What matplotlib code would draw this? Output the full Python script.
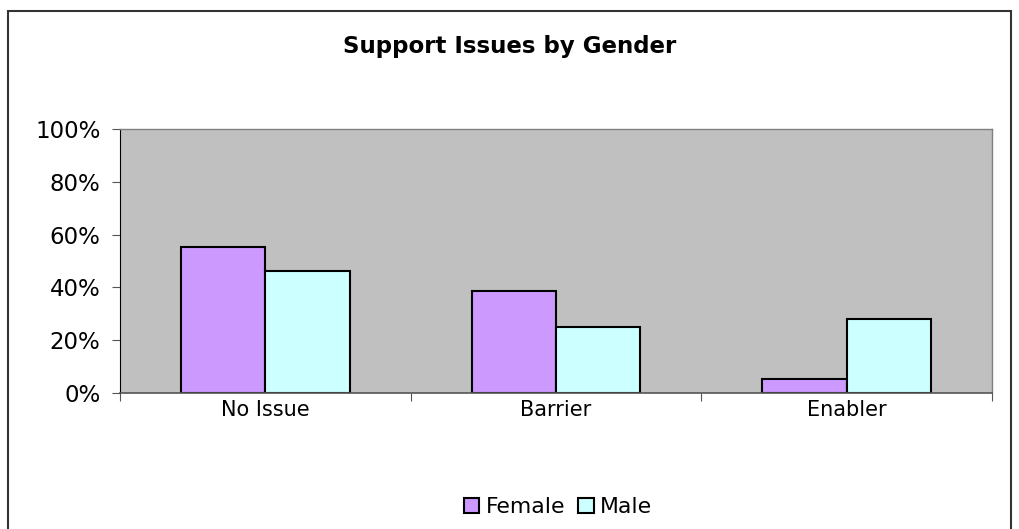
import numpy as np
import matplotlib.pyplot as plt
from matplotlib.patches import Rectangle
from matplotlib.ticker import PercentFormatter

categories = ["No Issue", "Barrier", "Enabler"]
female = [55.3, 38.6, 5.3]
male = [46.2, 24.9, 28.0]

fig = plt.figure(figsize=(10.2, 5.29), dpi=100)
ax = fig.add_axes([120 / 1020, 1 - 393 / 529, 872 / 1020, 264 / 529])

# outer chart frame, bottom edge runs off the canvas
fig.patches.append(Rectangle((8 / 1020, -0.05), 1003 / 1020, 1.05 - 11 / 529,
                             transform=fig.transFigure, fill=False,
                             edgecolor="#333333", linewidth=1.5))

x = np.arange(len(categories))
width = 0.29
ax.bar(x - width / 2, female, width, color="#cc99ff", edgecolor="black",
       linewidth=1.5, label="Female")
ax.bar(x + width / 2, male, width, color="#ccffff", edgecolor="black",
       linewidth=1.5, label="Male")

ax.set_facecolor("#c0c0c0")
ax.set_xlim(-0.5, 2.5)
ax.set_ylim(0, 100)
ax.set_yticks(range(0, 101, 20))
ax.yaxis.set_major_formatter(PercentFormatter(decimals=0))
ax.set_xticks([-0.5, 0.5, 1.5, 2.5])
ax.set_xticklabels([])
ax.set_xticks(x, minor=True)
ax.set_xticklabels(categories, minor=True)
ax.tick_params(axis="x", which="minor", length=0, pad=5, labelsize=15)
ax.tick_params(axis="x", which="major", length=6, color="#555555")
ax.tick_params(axis="y", length=6, labelsize=16.5, pad=8, color="#555555")

for side in ["top", "right"]:
    ax.spines[side].set_color("#808080")
    ax.spines[side].set_linewidth(1)
ax.spines["left"].set_color("black")
ax.spines["bottom"].set_color("#555555")
ax.spines["bottom"].set_linewidth(1.2)

fig.text(0.5, 1 - 47 / 529, "Support Issues by Gender", ha="center",
         va="center", fontsize=16.5, fontweight="bold")

fig.legend(loc="center", bbox_to_anchor=(558 / 1020, 1 - 507 / 529), ncol=2,
           frameon=False, handlelength=0.7, handleheight=0.7,
           handletextpad=0.3, columnspacing=0.6,
           prop={"family": "DejaVu Sans", "size": 15.8})

fig.savefig("out.png", dpi=100)
